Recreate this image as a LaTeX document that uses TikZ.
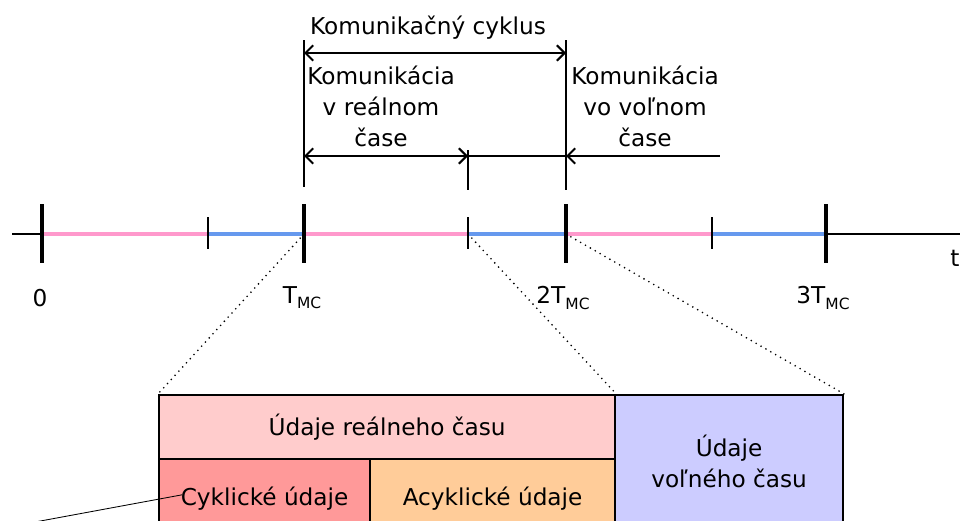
\documentclass[tikz,border=0pt]{standalone}
\usepackage{fontspec}
\setmainfont{DejaVu Sans}
\usetikzlibrary{arrows.meta,positioning}
\definecolor{rtpink}{HTML}{FF99CC}
\definecolor{nrtblue}{HTML}{6699EE}
\definecolor{rtfill}{HTML}{FFCCCC}
\definecolor{cycfill}{HTML}{FF9999}
\definecolor{acycfill}{HTML}{FFCC99}
\definecolor{nrtfill}{HTML}{CCCCFF}
\newcommand{\tmc}{T\raisebox{-0.4ex}{\fontsize{11}{11}\selectfont MC}}
\tikzset{
  lbl/.style={font=\fontsize{16.5}{22}\selectfont, inner sep=1pt, align=center},
  rtseg/.style={rtpink, line width=2.4pt},
  nrtseg/.style={nrtblue, line width=2.4pt},
  majortick/.style={line width=2.4pt},
  minortick/.style={line width=1.5pt},
  guide/.style={line width=1.5pt},
  barb/.style={line width=1.5pt},
  zoomline/.style={line width=1.3pt, line cap=round, dash pattern=on 0pt off 4pt},
  databox/.style={draw, line width=1.5pt, inner sep=0pt, anchor=north west}
}

\begin{document}
\begin{tikzpicture}[x=0.025cm, y=-0.025cm,
  >={Straight Barb[length=5.5pt,width=11pt]}]
\useasboundingbox (0,0) rectangle (960,520);
\clip (0,0) rectangle (960,520);
% time axis
\coordinate (axstart) at (12,234);
\coordinate (t0) at (42,234);
\coordinate (m1) at (208,234);
\coordinate (t1) at (304,234);
\coordinate (m2) at (468,234);
\coordinate (t2) at (566,234);
\coordinate (m3) at (712,234);
\coordinate (t3) at (826,234);
\coordinate (axend) at (960,234);
\draw[line width=1.5pt] (axstart) -- (t0);
\draw[line width=1.5pt] (t3) -- (axend);
\draw[rtseg] (t0) -- (m1);
\draw[nrtseg] (m1) -- (t1);
\draw[rtseg] (t1) -- (m2);
\draw[nrtseg] (m2) -- (t2);
\draw[rtseg] (t2) -- (m3);
\draw[nrtseg] (m3) -- (t3);
\foreach \p in {t0,t1,t2,t3}
  \draw[majortick] (\p) ++(0,-30) -- ++(0,59);
\foreach \p in {m1,m2,m3}
  \draw[minortick] (\p) ++(0,-17) -- ++(0,32);
\node[lbl] (l0) at (40,298) {0};
\node[lbl] (l1) at (302,298) {\tmc};
\node[lbl] (l2) at (563,298) {2\tmc};
\node[lbl] (l3) at (823,298) {3\tmc};
\node[lbl] (lt) at (955,258) {t};

% communication cycle
\coordinate (g1top) at (304,40);
\coordinate (g1bot) at (304,187);
\coordinate (g2top) at (468,150);
\coordinate (g2bot) at (468,190);
\coordinate (g3top) at (566,40);
\coordinate (g3bot) at (566,190);
\draw[guide] (g1top) -- (g1bot);
\draw[guide] (g2top) -- (g2bot);
\draw[guide] (g3top) -- (g3bot);
\coordinate (c1) at (304,53);
\coordinate (c2) at (566,53);
\coordinate (r1) at (304,156);
\coordinate (r2) at (468,156);
\coordinate (n1) at (566,156);
\coordinate (n2) at (720,156);
\draw[barb, <->] (c1) -- (c2);
\draw[barb, <->] (r1) -- (r2);
\draw[barb, <-] (n1) -- (n2);
\draw[barb] (r2) -- (n1);
\node[lbl] (cycle) at (428,28) {Komunikačný cyklus};
\node[lbl] (rtcomm) at (381,106) {Komunikácia\\v reálnom\\čase};
\node[lbl] (nrtcomm) at (645,106) {Komunikácia\\vo voľnom\\čase};

% data boxes
\node[databox, fill=rtfill, minimum width=11.4cm, minimum height=1.6cm] (rtdata) at (158,394) {};
\node[databox, fill=cycfill, minimum width=5.275cm, minimum height=2cm] (cyc) at (158,458) {};
\node[databox, fill=acycfill, minimum width=6.125cm, minimum height=2cm] (acyc) at (369,458) {};
\node[databox, fill=nrtfill, minimum width=5.7cm, minimum height=3.3cm] (nrtdata) at (614,394) {};
\node[lbl] (rtlbl) at (rtdata.center) {Údaje reálneho času};
\node[lbl] (cyclbl) at (cyc.center) {Cyklické údaje};
\node[lbl] (acyclbl) at (acyc.center) {Acyklické údaje};
\node[lbl] (nrtlbl) at (nrtdata.center) {Údaje\\voľného času};
\draw[zoomline] (t1) -- (rtdata.north west);
\draw[zoomline] (m2) -- (rtdata.north east);
\draw[zoomline] (t2) -- (nrtdata.north east);
\coordinate (ptr) at (35,522);
\draw[line width=0.6pt] (ptr) -- ([xshift=2pt,yshift=3pt]cyclbl.west);
\end{tikzpicture}
\end{document}
